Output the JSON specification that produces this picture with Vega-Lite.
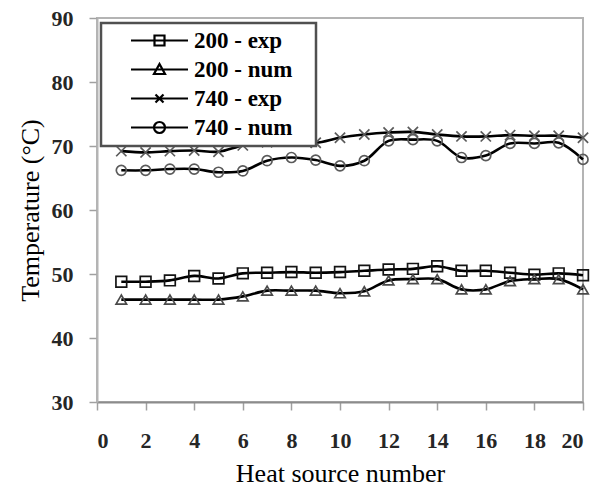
{
  "$schema": "https://vega.github.io/schema/vega-lite/v6.json",
  "width": 486,
  "height": 384,
  "autosize": {"type": "none"},
  "padding": {"left": 97, "top": 18, "right": 22, "bottom": 88},
  "background": "white",
  "data": {
    "values": [
      {"n": 1, "series": "200 - exp", "t": 48.8}, {"n": 2, "series": "200 - exp", "t": 48.8},
      {"n": 3, "series": "200 - exp", "t": 49.0}, {"n": 4, "series": "200 - exp", "t": 49.7},
      {"n": 5, "series": "200 - exp", "t": 49.3}, {"n": 6, "series": "200 - exp", "t": 50.1},
      {"n": 7, "series": "200 - exp", "t": 50.2}, {"n": 8, "series": "200 - exp", "t": 50.3},
      {"n": 9, "series": "200 - exp", "t": 50.2}, {"n": 10, "series": "200 - exp", "t": 50.3},
      {"n": 11, "series": "200 - exp", "t": 50.5}, {"n": 12, "series": "200 - exp", "t": 50.7},
      {"n": 13, "series": "200 - exp", "t": 50.8}, {"n": 14, "series": "200 - exp", "t": 51.2},
      {"n": 15, "series": "200 - exp", "t": 50.5}, {"n": 16, "series": "200 - exp", "t": 50.5},
      {"n": 17, "series": "200 - exp", "t": 50.2}, {"n": 18, "series": "200 - exp", "t": 49.9},
      {"n": 19, "series": "200 - exp", "t": 50.1}, {"n": 20, "series": "200 - exp", "t": 49.8},

      {"n": 1, "series": "200 - num", "t": 46.0}, {"n": 2, "series": "200 - num", "t": 46.0},
      {"n": 3, "series": "200 - num", "t": 46.0}, {"n": 4, "series": "200 - num", "t": 46.0},
      {"n": 5, "series": "200 - num", "t": 46.0}, {"n": 6, "series": "200 - num", "t": 46.5},
      {"n": 7, "series": "200 - num", "t": 47.4}, {"n": 8, "series": "200 - num", "t": 47.4},
      {"n": 9, "series": "200 - num", "t": 47.4}, {"n": 10, "series": "200 - num", "t": 47.0},
      {"n": 11, "series": "200 - num", "t": 47.3}, {"n": 12, "series": "200 - num", "t": 49.0},
      {"n": 13, "series": "200 - num", "t": 49.2}, {"n": 14, "series": "200 - num", "t": 49.2},
      {"n": 15, "series": "200 - num", "t": 47.6}, {"n": 16, "series": "200 - num", "t": 47.6},
      {"n": 17, "series": "200 - num", "t": 48.9}, {"n": 18, "series": "200 - num", "t": 49.2},
      {"n": 19, "series": "200 - num", "t": 49.2}, {"n": 20, "series": "200 - num", "t": 47.6},

      {"n": 1, "series": "740 - exp", "t": 69.2}, {"n": 2, "series": "740 - exp", "t": 69.0},
      {"n": 3, "series": "740 - exp", "t": 69.2}, {"n": 4, "series": "740 - exp", "t": 69.3},
      {"n": 5, "series": "740 - exp", "t": 69.1}, {"n": 6, "series": "740 - exp", "t": 70.1},
      {"n": 7, "series": "740 - exp", "t": 70.6}, {"n": 8, "series": "740 - exp", "t": 70.8},
      {"n": 9, "series": "740 - exp", "t": 70.5}, {"n": 10, "series": "740 - exp", "t": 71.3},
      {"n": 11, "series": "740 - exp", "t": 71.8}, {"n": 12, "series": "740 - exp", "t": 72.1},
      {"n": 13, "series": "740 - exp", "t": 72.2}, {"n": 14, "series": "740 - exp", "t": 71.8},
      {"n": 15, "series": "740 - exp", "t": 71.5}, {"n": 16, "series": "740 - exp", "t": 71.5},
      {"n": 17, "series": "740 - exp", "t": 71.7}, {"n": 18, "series": "740 - exp", "t": 71.6},
      {"n": 19, "series": "740 - exp", "t": 71.6}, {"n": 20, "series": "740 - exp", "t": 71.3},

      {"n": 1, "series": "740 - num", "t": 66.2}, {"n": 2, "series": "740 - num", "t": 66.2},
      {"n": 3, "series": "740 - num", "t": 66.4}, {"n": 4, "series": "740 - num", "t": 66.4},
      {"n": 5, "series": "740 - num", "t": 65.9}, {"n": 6, "series": "740 - num", "t": 66.1},
      {"n": 7, "series": "740 - num", "t": 67.7}, {"n": 8, "series": "740 - num", "t": 68.2},
      {"n": 9, "series": "740 - num", "t": 67.8}, {"n": 10, "series": "740 - num", "t": 66.9},
      {"n": 11, "series": "740 - num", "t": 67.7}, {"n": 12, "series": "740 - num", "t": 70.8},
      {"n": 13, "series": "740 - num", "t": 71.0}, {"n": 14, "series": "740 - num", "t": 70.8},
      {"n": 15, "series": "740 - num", "t": 68.2}, {"n": 16, "series": "740 - num", "t": 68.5},
      {"n": 17, "series": "740 - num", "t": 70.4}, {"n": 18, "series": "740 - num", "t": 70.4},
      {"n": 19, "series": "740 - num", "t": 70.5}, {"n": 20, "series": "740 - num", "t": 67.9}
    ]
  },
  "encoding": {
    "x": {
      "field": "n",
      "type": "quantitative",
      "scale": {"domain": [0, 20], "nice": false},
      "axis": {
        "title": "Heat source number",
        "values": [0, 2, 4, 6, 8, 10, 12, 14, 16, 18, 20],
        "domainColor": "#8c8c8c",
        "tickColor": "#a0a0a0",
        "labelPadding": 20,
        "titlePadding": 9
      }
    },
    "y": {
      "field": "t",
      "type": "quantitative",
      "scale": {"domain": [30, 90], "nice": false},
      "axis": {
        "title": "Temperature (°C)",
        "values": [30, 40, 50, 60, 70, 80, 90],
        "domainColor": "#b4b4b4",
        "tickColor": "#a0a0a0",
        "labelPadding": 16,
        "titlePadding": 8
      }
    }
  },
  "layer": [
    {
      "mark": {"type": "line", "interpolate": "catmull-rom", "color": "black", "strokeWidth": 2.6},
      "encoding": {"detail": {"field": "series"}}
    },
    {
      "mark": {"type": "point", "filled": false, "strokeWidth": 1.7, "opacity": 1},
      "encoding": {
        "shape": {
          "field": "series",
          "scale": {
            "domain": ["200 - exp", "200 - num", "740 - exp", "740 - num"],
            "range": ["square", "triangle-up", "M-1,-1L1,1M-1,1L1,-1", "circle"]
          },
          "legend": null
        },
        "size": {
          "field": "series",
          "scale": {
            "domain": ["200 - exp", "200 - num", "740 - exp", "740 - num"],
            "range": [115, 100, 64, 140]
          },
          "legend": null
        },
        "color": {
          "field": "series",
          "scale": {
            "domain": ["200 - exp", "200 - num", "740 - exp", "740 - num"],
            "range": ["#141414", "#4a4a4a", "#5a5a5a", "#5a5a5a"]
          },
          "legend": null
        }
      }
    },
    {
      "mark": {"type": "point", "filled": false, "opacity": 0},
      "encoding": {
        "shape": {
          "field": "series",
          "scale": {
            "domain": ["200 - exp", "200 - num", "740 - exp", "740 - num"],
            "range": [
              "M-2.85,0H2.85M-0.5,-0.5H0.5V0.5H-0.5Z",
              "M-2.85,0H2.85M0,-0.55L0.55,0.45H-0.55Z",
              "M-2.85,0H2.85M-0.4,-0.4L0.4,0.4M-0.4,0.4L0.4,-0.4",
              "M-2.85,0H2.85M0.55,0A0.55,0.55 0 1,1 -0.55,0A0.55,0.55 0 1,1 0.55,0"
            ]
          },
          "legend": {
            "title": null,
            "orient": "none",
            "legendX": 4,
            "legendY": 5,
            "padding": 6,
            "rowPadding": 5,
            "fillColor": "white",
            "strokeColor": "#505050",
            "symbolSize": 400,
            "symbolOffset": 41,
            "symbolStrokeWidth": 2.2,
            "symbolStrokeColor": "black",
            "symbolFillColor": "transparent",
            "symbolOpacity": 1,
            "labelOffset": 23,
            "labelFont": "Liberation Serif",
            "labelFontWeight": "bold",
            "labelFontSize": 23,
            "labelColor": "black",
            "labelExpr": "datum.label + '\u2800'",
            "labelLimit": 400
          }
        }
      }
    }
  ],
  "resolve": {"scale": {"shape": "independent"}},
  "config": {
    "view": {"stroke": "#b4b4b4", "strokeWidth": 2},
    "legend": {"strokeWidth": 2.5},
    "axis": {
      "grid": false,
      "domainWidth": 2,
      "tickSize": 8,
      "tickWidth": 1.5,
      "labelFont": "Liberation Serif",
      "labelFontWeight": "bold",
      "labelFontSize": 22,
      "labelColor": "#262626",
      "titleFont": "Liberation Serif",
      "titleFontWeight": "normal",
      "titleFontSize": 26,
      "titleColor": "black"
    }
  }
}
